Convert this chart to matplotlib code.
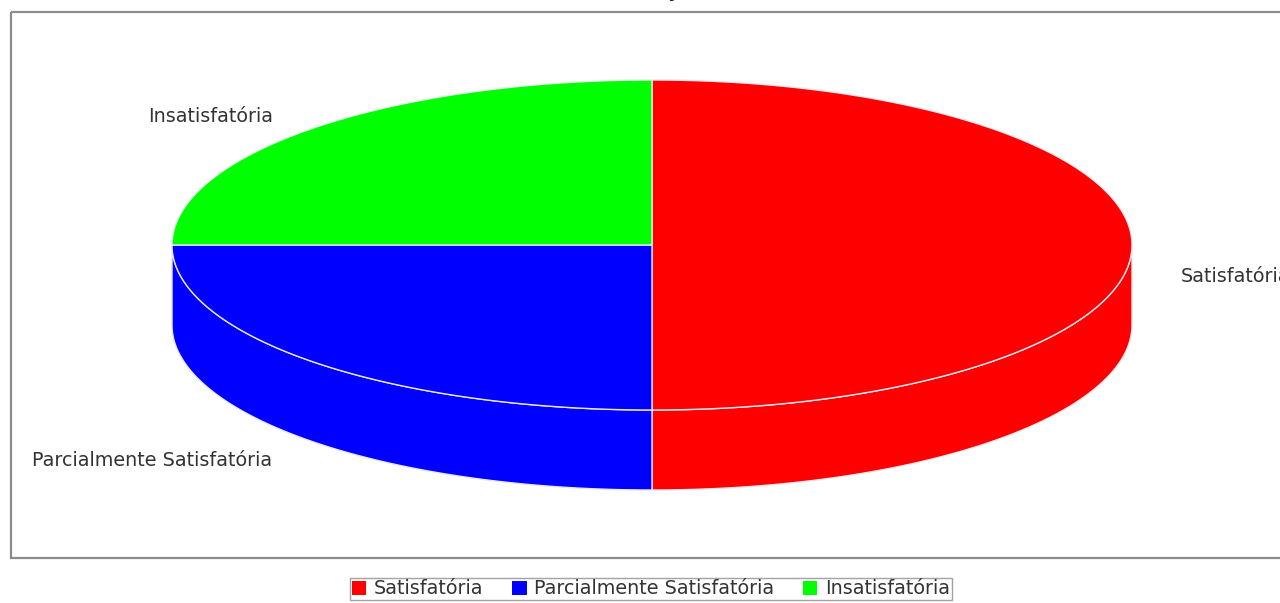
import numpy as np
import matplotlib
matplotlib.use("Agg")
import matplotlib.pyplot as plt
from matplotlib.patches import Polygon, Rectangle, Patch

categories = ["Satisfatória", "Parcialmente Satisfatória", "Insatisfatória"]
values = [2, 1, 1]
colors = ["#ff0000", "#0000ff", "#00ff00"]
title = "Avaliação"

W, H = 1280, 603
fig = plt.figure(figsize=(W / 100, H / 100), dpi=100)
ax = fig.add_axes([0, 0, 1, 1])
ax.set_xlim(0, W)
ax.set_ylim(H, 0)
ax.axis("off")

# plot area border
ax.add_patch(Rectangle((11, 12), 1300, 546, fill=False, edgecolor="#8c8c8c", lw=1.6, zorder=1))

# pie geometry (pixel space)
cx, cy, a, b, depth = 652, 245, 480, 165, 80
edge = "#e8e8f0"

def pt(th, dy=0.0):
    return cx + a * np.cos(th), cy - b * np.sin(th) + dy

fracs = np.array(values, dtype=float) / sum(values)
start = np.pi / 2
angles = []
cur = start
for f in fracs:
    t1 = cur
    t2 = cur - f * 2 * np.pi
    angles.append((t2, t1))
    cur = t2

# side walls (front half)
for (t2, t1), col in zip(angles, colors):
    lo, hi = t2, t1
    for band_lo, band_hi in [(-np.pi, 0), (np.pi, 2 * np.pi), (-3 * np.pi, -2 * np.pi)]:
        s = max(lo, band_lo)
        e = min(hi, band_hi)
        if e - s > 1e-6:
            th = np.linspace(s, e, 200)
            xs, ys = pt(th)
            xb, yb = pt(th[::-1], depth)
            poly = np.column_stack([np.concatenate([xs, xb]), np.concatenate([ys, yb])])
            ax.add_patch(Polygon(poly, closed=True, facecolor=col, edgecolor=edge, lw=1.0, zorder=2))

# top faces
for (t2, t1), col in zip(angles, colors):
    th = np.linspace(t2, t1, 300)
    xs, ys = pt(th)
    poly = np.column_stack([np.concatenate([[cx], xs]), np.concatenate([[cy], ys])])
    ax.add_patch(Polygon(poly, closed=True, facecolor=col, edgecolor=edge, lw=1.0, zorder=3))

# labels
label_pos = {"Satisfatória": (1181, 277), "Parcialmente Satisfatória": (32, 460), "Insatisfatória": (148, 117)}
for name in categories:
    x, y = label_pos[name]
    ax.text(x, y, name, ha="left", va="center", fontsize=13.8, color="#333333", zorder=5)

# title (mostly above the visible area, as in the reference)
ax.text(652, -3, title, ha="center", va="baseline", fontsize=14, fontweight="bold",
        color="#222222", clip_on=False)

handles = [Patch(facecolor=c, edgecolor="none") for c in colors]
leg = fig.legend(handles, categories, loc="center", bbox_to_anchor=(651 / W, 1 - 589 / H), ncol=3,
                 fontsize=13.8, frameon=True, fancybox=False, edgecolor="#8c8c8c",
                 handlelength=0.75, handleheight=0.75, handletextpad=0.4, columnspacing=1.5,
                 borderpad=0.1, borderaxespad=0)
leg.get_frame().set_linewidth(1.0)
for t in leg.get_texts():
    t.set_color("#333333")

fig.savefig("out.png", dpi=100)
